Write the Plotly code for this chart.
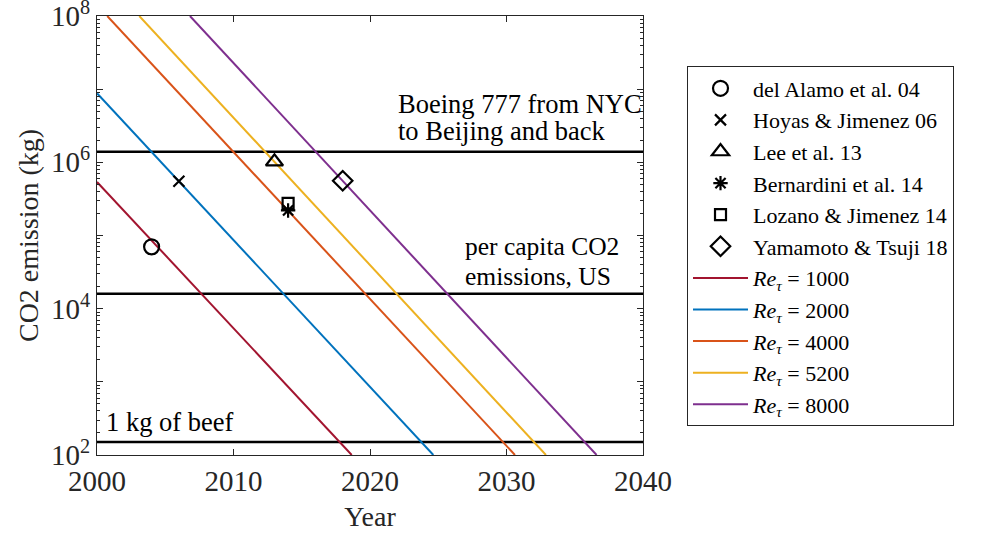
import plotly.graph_objects as go

# ---------------- data ----------------
# Reference emission levels (kg CO2)
ref_labels = ["Boeing 777", "per capita US", "1 kg of beef"]
ref_values = [1.4e6, 1.6e4, 150]
ref_years = [2000, 2040]

# Re_tau cost lines: two end points each (year, kg CO2)
re_names = ["1000", "2000", "4000", "5200", "8000"]
re_years = [[2000, 2018.66], [2000, 2024.64], [2000.75, 2030.62], [2003.1, 2032.89], [2006.81, 2036.6]]
re_values = [[5.4e5, 1e2], [8.8e6, 1e2], [1e8, 1e2], [1e8, 1e2], [1e8, 1e2]]
re_colors = ["#A2142F", "#0072BD", "#D95319", "#EDB120", "#7E2F8E"]

# Simulations
sim_names = ["del Alamo et al. 04", "Hoyas &amp; Jimenez 06", "Lee et al. 13",
             "Bernardini et al. 14", "Lozano &amp; Jimenez 14", "Yamamoto &amp; Tsuji 18"]
sim_years = [2004, 2006, 2013, 2014, 2014, 2018]
sim_values = [7.0e4, 5.5e5, 1.02e6, 2.2e5, 2.75e5, 5.6e5]
sim_symbols = ["circle-open", "x-thin-open", "triangle-up-open", "asterisk-open", "square-open", "diamond-open"]
sim_sizes = [15, 11, 15, 12, 11, 15]

x_ticks = [2000, 2010, 2020, 2030, 2040]
y_ticks = [1e2, 1e3, 1e4, 1e5, 1e6, 1e7, 1e8]
y_ticktext = ["10<sup>2</sup>", "", "10<sup>4</sup>", "", "10<sup>6</sup>", "", "10<sup>8</sup>"]

FONT = "Liberation Serif"
AX = "#262626"

fig = go.Figure()

for v in ref_values:
    fig.add_trace(go.Scatter(x=ref_years, y=[v, v], mode="lines",
                             line=dict(color="black", width=2.5), showlegend=False, hoverinfo="skip"))

for i, (n, xs, ys, c) in enumerate(zip(re_names, re_years, re_values, re_colors)):
    fig.add_trace(go.Scatter(x=xs, y=ys, mode="lines", line=dict(color=c, width=2),
                             name=f"<i>Re</i><sub><i>τ</i></sub> = {n}", legendrank=10 + i))

for i, (n, xv, yv, s, sz) in enumerate(zip(sim_names, sim_years, sim_values, sim_symbols, sim_sizes)):
    fig.add_trace(go.Scatter(x=[xv], y=[yv], mode="markers", name=n, legendrank=1 + i,
                             marker=dict(symbol=s, size=sz, color="black",
                                         line=dict(color="black", width=2.2))))

minor_vals = [m * 10 ** e for e in range(2, 8) for m in range(2, 10)]

ann_font = dict(family=FONT, size=26.5, color="black")
small_font = dict(family=FONT, size=25.5, color="black")
annotations = [
    dict(x=2021.9, y=6.57, text="Boeing 777 from NYC"),
    dict(x=2021.9, y=6.19, text="to Beijing and back"),
    dict(x=2026.8, y=4.63, text="per capita CO2", font=small_font),
    dict(x=2026.8, y=4.21, text="emissions, US", font=small_font),
    dict(x=2000.5, y=2.22, text="1 kg of beef"),
]
for a in annotations:
    a.setdefault("font", ann_font)
    a.update(xref="x", yref="y", xanchor="left", yanchor="bottom", showarrow=False)

fig.update_layout(
    width=995, height=535,
    margin=dict(l=97, r=352, t=16, b=80, autoexpand=False),
    paper_bgcolor="white", plot_bgcolor="white",
    font=dict(family=FONT, size=28, color=AX),
    annotations=annotations,
    showlegend=True,
    legend=dict(x=1.0806, y=0.885, xanchor="left", yanchor="top",
                bordercolor=AX, borderwidth=1, bgcolor="white",
                font=dict(family=FONT, size=22, color="black"),
                itemwidth=55, tracegroupgap=0),
    xaxis=dict(range=[2000, 2040], tickvals=x_ticks, ticks="inside", ticklen=6,
               tickcolor=AX, showline=True, linecolor=AX, linewidth=1, mirror="allticks",
               showgrid=False, zeroline=False, automargin=False, ticklabeloverflow="allow",
               title=dict(text="Year", standoff=10, font=dict(size=28)),
               tickfont=dict(size=29)),
    yaxis=dict(type="log", range=[1.9999, 8.0001], tickvals=y_ticks, ticktext=y_ticktext,
               ticks="inside", ticklen=6, tickcolor=AX, showline=True, linecolor=AX,
               linewidth=1, mirror="allticks", showgrid=False, zeroline=False, automargin=False,
               ticklabeloverflow="allow",
               minor=dict(tickmode="array", tickvals=minor_vals, ticks="inside", ticklen=3,
                          tickcolor=AX, showgrid=False),
               title=dict(text="CO2 emission (kg)", standoff=4, font=dict(size=28)),
               tickfont=dict(size=29)),
)

fig.write_html("out.html", config={"displayModeBar": False},
               post_script="document.body.style.margin='0';")
